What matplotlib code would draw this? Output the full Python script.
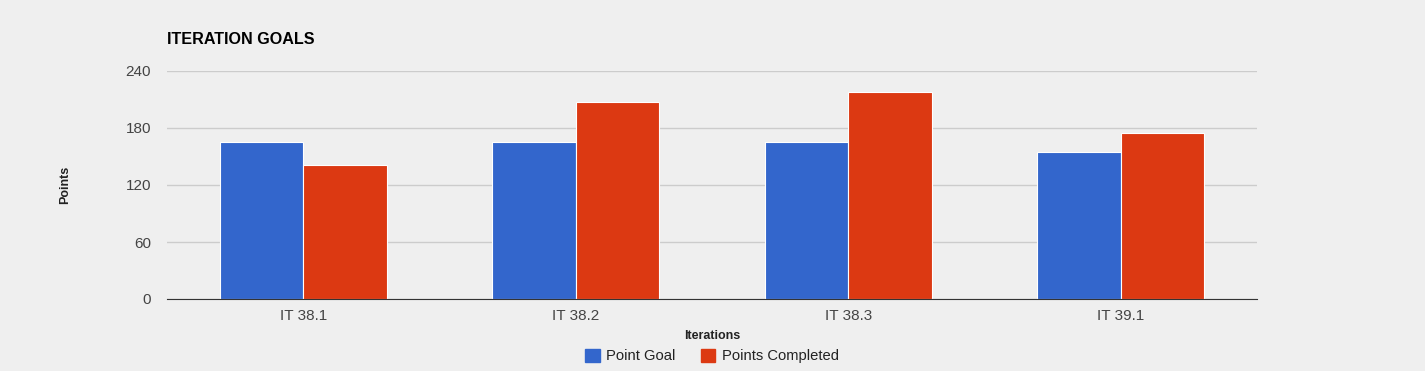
import numpy as np
import matplotlib.pyplot as plt
from matplotlib.patches import Patch

iterations = ["IT 38.1", "IT 38.2", "IT 38.3", "IT 39.1"]
point_goal = [165, 165, 165, 155]
points_completed = [141, 207, 218, 175]
yticks = [0, 60, 120, 180, 240]

blue = "#3366cc"
red = "#dc3912"
bg = "#efefef"

plt.rcParams["font.family"] = ["Liberation Sans", "DejaVu Sans"]

fig = plt.figure(figsize=(14.25, 3.71), dpi=100, facecolor=bg)
ax = fig.add_axes([167 / 1425, 72 / 371, 1090 / 1425, 228 / 371], facecolor=bg)

x = np.arange(len(iterations))
w = 0.306
ax.bar(x - w / 2, point_goal, w, color=blue, edgecolor="white", linewidth=0.8, zorder=3)
ax.bar(x + w / 2, points_completed, w, color=red, edgecolor="white", linewidth=0.8, zorder=3)

ax.set_xlim(-0.5, len(iterations) - 0.5)
ax.set_ylim(0, 240)
ax.set_yticks(yticks)
ax.set_xticks(x)
ax.set_xticklabels(iterations)
ax.grid(axis="y", color="#cccccc", linewidth=1, zorder=0)
ax.tick_params(length=0, labelsize=11, labelcolor="#444444")
ax.tick_params(axis="y", pad=11.5)
ax.tick_params(axis="x", pad=7)
for s in ["top", "right", "left"]:
    ax.spines[s].set_visible(False)
ax.spines["bottom"].set_color("#333333")
ax.spines["bottom"].set_zorder(4)

ax.set_ylabel("Points", fontsize=9, fontweight="bold", color="#222222")
ax.yaxis.set_label_coords(-96 / 1090, 0.5)
ax.set_xlabel("Iterations", fontsize=9, fontweight="bold", color="#222222")
ax.xaxis.set_label_coords(545 / 1090, -31 / 228)

fig.text(167 / 1425, 1 - 40 / 371, "ITERATION GOALS", fontsize=11.6, fontweight="bold",
         va="center", ha="left", color="black")

handles = [Patch(color=blue, label="Point Goal"), Patch(color=red, label="Points Completed")]
fig.legend(handles=handles, loc="center", bbox_to_anchor=(712 / 1425, 1 - 356 / 371), ncol=2,
           frameon=False, fontsize=10.6, handlelength=1.0, handleheight=1.0,
           handletextpad=0.45, columnspacing=1.7, labelcolor="#222222")

fig.savefig("out.png", dpi=100, facecolor=bg)
